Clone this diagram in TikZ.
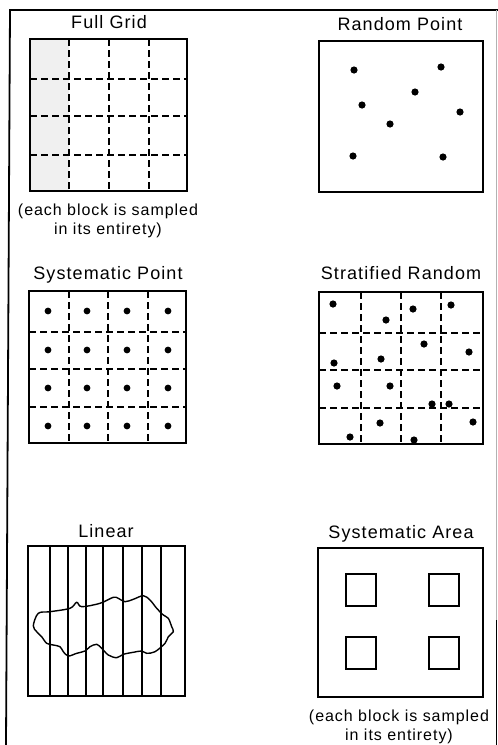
\documentclass[tikz,border=0pt]{standalone}
\usepackage{fontspec}
\setmainfont{Liberation Sans}[LetterSpace=6]
\begin{document}
\begin{tikzpicture}[x=1pt,y=-1pt,
  title/.style={anchor=base,inner sep=0pt,font=\fontsize{18}{20}\selectfont},
  caption/.style={anchor=base,inner sep=0pt,font=\fontsize{16}{20}\selectfont},
  frame/.style={line width=1.8pt},
  outer/.style={line width=1.7pt},
  grid/.style={line width=1.4pt,dash pattern=on 7pt off 4pt},
  dot/.style={fill=black},
  inner/.style={line width=1.5pt}]
\useasboundingbox (0,0) rectangle (498,745);
% outer frame
\draw[frame] (6,745) -- (10,10) -- (498,10);
\draw[line width=0.8pt,black!30] (496.5,10) -- (496.5,620);
\draw[frame] (496.5,620) -- (496.5,745);

% ---------- Full Grid ----------
\node[title] (tFG) at (109,28.5) {Full Grid};
\fill[black!6] (30,39) rectangle (69,191);
\foreach \x in {69,109,149} \draw[grid] (\x,39) -- (\x,191);
\foreach \y in {79,116,155} \draw[grid] (30,\y) -- (187,\y);
\draw[outer] (30,39) rectangle (187,191);
\node[caption] (cFG1) at (108,215) {(each block is sampled};
\node[caption] (cFG2) at (108,234) {in its entirety)};

% ---------- Random Point ----------
\node[title] (tRP) at (400,30) {Random Point};
\draw[outer] (319,41) rectangle (483,192);
\foreach \p in {(354,70),(441,67),(415,92),(362,105),(460,112),(390,124),(353,156),(443,157)}
  \fill[dot] \p circle (3.6);

% ---------- Systematic Point ----------
\node[title] (tSP) at (108,279) {Systematic Point};
\foreach \x in {69,108,148} \draw[grid] (\x,291) -- (\x,443);
\foreach \y in {332,369,407} \draw[grid] (29,\y) -- (186,\y);
\draw[outer] (29,291) rectangle (186,443);
\foreach \x in {48,87,127,168}
  \foreach \y in {311,350,388,426}
    \fill[dot] (\x,\y) circle (3.4);

% ---------- Stratified Random ----------
\node[title] (tSR) at (401,279) {Stratified Random};
\foreach \x in {361,401,441} \draw[grid] (\x,292) -- (\x,444);
\foreach \y in {333,370,408} \draw[grid] (319,\y) -- (483,\y);
\draw[outer] (319,292) rectangle (483,444);
\foreach \p in {(333,304),(386,320),(413,309),(451,305),(424,344),(469,352),
                (334,363),(381,359),(337,386),(390,386),(432,404),(449,404),
                (473,422),(380,423),(350,437),(414,440)}
  \fill[dot] \p circle (3.6);

% ---------- Linear ----------
\node[title] (tLI) at (106,537) {Linear};
\foreach \x in {50,68,86,103,123,142,161} \draw[line width=1.3pt] (\x,546) -- (\x,696);
\draw[outer] (28,546) rectangle (185,696);
\draw[line width=1.4pt] plot[smooth cycle,tension=0.55] coordinates {
 (33.3,625.7) (38.3,613.3) (50,611.7) (70,608.3) (76.7,602.3) (81.7,606.7)
 (100,603.3) (113.3,597.3) (118.3,598.3) (125,601.7) (133.3,599.3) (143.3,595.7)
 (150,600) (156.7,608.3) (163.3,615) (168.3,618.3) (171.7,626.7) (173.3,631.7)
 (168.3,636.7) (165,643.3) (155,651.7) (146.7,653.3) (141.7,651) (133.3,652.3)
 (123.3,654.3) (116.7,657.7) (108.3,655) (101.7,648.3) (96.7,644.3) (90,646.7)
 (85,651) (76.7,653.3) (68.3,656) (63.3,651.7) (60,646.7) (53.3,645)
 (46.7,643.3) (41.7,636.7) (36.7,631.7)};

% ---------- Systematic Area ----------
\node[title] (tSA) at (401,538) {Systematic Area};
\draw[outer] (318,548) rectangle (483,697);
\draw[inner] (346,574) rectangle (376,606);
\draw[inner] (429,574) rectangle (459,606);
\draw[inner] (346,637) rectangle (376,669);
\draw[inner] (429,637) rectangle (459,669);
\node[caption] (cSA1) at (399,721) {(each block is sampled};
\node[caption] (cSA2) at (399,740) {in its entirety)};
\end{tikzpicture}
\end{document}
